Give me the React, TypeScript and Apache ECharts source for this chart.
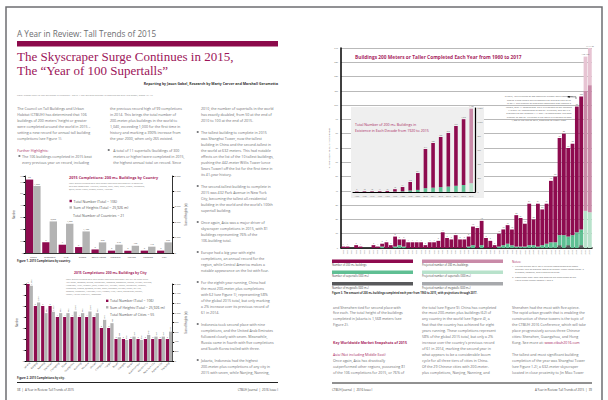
import React, { useEffect, useRef } from "react";
import * as echarts from "echarts";

// ---------------- DATA ----------------
const countryNames = ["China", "Indonesia", "UAE", "Russia", "South Korea", "Malaysia", "Mexico", "Panama", "USA"];
const countryCounts = [62, 9, 7, 5, 3, 2, 2, 2, 2];
const countryHeights = [4350, 2050, 1900, 1400, 690, 540, 470, 410, 690];

const cityNames = ["Jakarta", "Nanjing", "Nanning", "Shenzhen", "Chongqing", "Dubai", "Guangzhou", "Kunming", "Moscow", "Wuhan", "Changsha", "Tianjin", "Busan", "Chengdu", "Dalian", "Kuala Lumpur", "Mexico City", "New York City", "Panama City", "Shenyang"];
const cityCounts = [7, 5, 5, 5, 4, 4, 4, 4, 4, 4, 3, 3, 2, 2, 2, 2, 2, 2, 2, 2];
const cityHeights = [1565, 1216, 995, 1022, 995, 995, 1028, 995, 1028, 995, 855, 786, 494, 438, 507, 438, 542, 507, 507, 611];

const mainYears = [
  "1960", "1961", "1962", "1963", "1964", "1965", "1966", "1967", "1968", "1969",
  "1970", "1971", "1972", "1973", "1974", "1975", "1976", "1977", "1978", "1979",
  "1980", "1981", "1982", "1983", "1984", "1985", "1986", "1987", "1988", "1989",
  "1990", "1991", "1992", "1993", "1994", "1995", "1996", "1997", "1998", "1999",
  "2000", "2001", "2002", "2003", "2004", "2005", "2006", "2007", "2008", "2009",
  "2010", "2011", "2012", "2013", "2014", "2015", "2016", "2017",
];
const completed: (number | string)[] = [
  1, 1, 0, 2, 1, 0, 0, 2, 1, 3,
  4, 2, 8, 6, 6, 4, 4, 4, 4, 2,
  4, 4, 5, 11, 7, 6, 9, 6, 6, 8,
  15, 14, 19, 7, 5, 2, 10, 13, 16, 13,
  23, 21, 17, 31, 20, 31, 27, 31, 47, 50,
  77, 80, 70, 73, 99, 106, "-", "-",
];
const supertalls: (number | string)[] = [
  0, 0, 0, 0, 0, 0, 0, 0, 0, 1,
  0, 0, 1, 2, 1, 0, 0, 0, 0, 0,
  0, 0, 0, 0, 0, 0, 0, 0, 0, 1,
  2, 0, 2, 0, 0, 0, 1, 2, 3, 2,
  1, 1, 1, 2, 2, 1, 2, 3, 4, 4,
  9, 9, 8, 9, 11, 13, "-", "-",
];
const megatalls: (number | string)[] = [
  0, 0, 0, 0, 0, 0, 0, 0, 0, 0,
  0, 0, 0, 0, 0, 0, 0, 0, 0, 0,
  0, 0, 0, 0, 0, 0, 0, 0, 0, 0,
  0, 0, 0, 0, 0, 0, 0, 0, 0, 0,
  0, 0, 0, 0, 0, 0, 0, 0, 0, 0,
  2, 0, 2, 0, 0, 2, "-", "-",
];
const projYears = ["2016", "2017"];
const projLow = [110, 114];
const projHigh = [134, 140];
const projSuper = [26, 25];

const insetYears = ["1920", "1930", "1940", "1950", "1960", "1970", "1980", "1990", "2000", "2010", "2011", "2012", "2013", "2014", "2015", "2016"];
const insetTotal: (number | string)[] = [5, 10, 10, 11, 15, 40, 71, 143, 271, 614, 700, 786, 843, 943, 1040, "-"];
const insetSuper: (number | string)[] = [0, 2, 2, 2, 2, 6, 10, 22, 30, 55, 62, 70, 78, 89, 100, "-"];
const insetMega: (number | string)[] = [0, 0, 0, 0, 0, 0, 0, 0, 0, 1, 1, 2, 2, 2, 3, "-"];
const insetProjTotal = 1190;
const insetProjSuper = 126;

// ---------------- STYLE ----------------
const MAG = "#8e0b4f";
const TMAG = "#a8285f";
const GRAY = "#b3b3b3";
const GREEN = "#5fbf93";
const LGREEN = "#b8e2cb";
const PINK = "#c98aa8";
const LPINK = "#e7c4d3";
const DGRAY = "#58595b";
const LGRAY = "#a7a9ac";
const BODY = "#6d6e71";
const SANS = "'Open Sans', 'Noto Sans', sans-serif";
const SERIF = "'Liberation Serif', 'DejaVu Serif', serif";

function txt(text: string, x: number, y: number, size: number, o: any = {}) {
  return {
    type: "text",
    x,
    y,
    rotation: o.rotation || 0,
    silent: true,
    z: 10,
    style: {
      text,
      fontSize: size,
      fontFamily: o.family || SANS,
      fontWeight: o.weight || "normal",
      fill: o.color || BODY,
      textAlign: o.align || "left",
      align: o.align || "left",
      textVerticalAlign: "middle",
      verticalAlign: "middle",
      rich: { l: { fill: TMAG, color: TMAG, fontSize: size, fontFamily: o.family || SANS } },
    },
  };
}

function column(lines: string[], x: number, bx: number, tx: number, y0: number, lh: number, size: number) {
  const out: any[] = [];
  lines.forEach((ln, i) => {
    const y = y0 + i * lh;
    if (!ln) return;
    if (ln.startsWith("#!")) out.push(txt(ln.slice(2), x, y, size, { color: TMAG, weight: "bold" }));
    else if (ln.startsWith("#")) out.push(txt(ln.slice(1), x, y, size, { color: TMAG }));
    else if (ln.startsWith("* ")) {
      out.push({ type: "rect", z: 10, silent: true, shape: { x: bx, y: y - 0.9, width: 1.8, height: 1.8 }, style: { fill: BODY } });
      out.push(txt(ln.slice(2), tx, y, size));
    } else if (ln.startsWith("  ")) out.push(txt(ln.slice(2), tx, y, size));
    else out.push(txt(ln, x, y, size));
  });
  return out;
}

const col1 = [
  "The Council on Tall Buildings and Urban",
  "Habitat (CTBUH) has determined that 106",
  "buildings of 200 meters' height or greater",
  "were completed around the world in 2015 –",
  "setting a new record for annual tall building",
  "completions (see Figure 1).",
  "",
  "#Further Highlights:",
  "* The 106 buildings completed in 2015 beat",
  "  every previous year on record, including",
];
const col2 = [
  "the previous record high of 99 completions",
  "in 2014. This brings the total number of",
  "200-meter-plus buildings in the world to",
  "1,040, exceeding 1,000 for the first time in",
  "history and marking a 390% increase from",
  "the year 2000, when only 265 existed.",
  "",
  "* A total of 11 supertalls (buildings of 300",
  "  meters or higher) were completed in 2015,",
  "  the highest annual total on record. Since",
];
const col3 = [
  "2010, the number of supertalls in the world",
  "has exactly doubled, from 50 at the end of",
  "2010 to 100 at the end of 2015.",
  "",
  "* The tallest building to complete in 2015",
  "  was Shanghai Tower, now the tallest",
  "  building in China and the second-tallest in",
  "  the world at 632 meters. This had notable",
  "  effects on the list of the 10 tallest buildings,",
  "  pushing the 442-meter Willis Tower (once",
  "  Sears Tower) off the list for the first time in",
  "  its 41-year history.",
  "",
  "* The second-tallest building to complete in",
  "  2015 was 432 Park Avenue in New York",
  "  City, becoming the tallest all-residential",
  "  building in the world and the world's 100th",
  "  supertall building.",
  "",
  "* Once again, Asia was a major driver of",
  "  skyscraper completions in 2015, with 81",
  "  buildings representing 76% of the",
  "  106-building total.",
  "",
  "* Europe had a big year with eight",
  "  completions, an annual record for the",
  "  region, while Central America makes a",
  "  notable appearance on the list with four.",
  "",
  "* For the eighth year running, China had",
  "  the most 200-meter-plus completions",
  "  with 62 (see Figure 1), representing 58%",
  "  of the global 2015 total, but only marking",
  "  a 2% increase over its previous record of",
  "  61 in 2014.",
  "",
  "* Indonesia took second place with nine",
  "  completions, and the United Arab Emirates",
  "  followed closely with seven. Meanwhile,",
  "  Russia came in fourth with five completions",
  "  and South Korea trailed with three.",
  "",
  "* Jakarta, Indonesia had the highest",
  "  200-meter-plus completions of any city in",
  "  2015 with seven, while Nanjing, Nanning,",
];
const colA = [
  "and Shenzhen tied for second place with",
  "five each. The total height of the buildings",
  "completed in Jakarta is 1,568 meters (see",
  "Figure 2).",
  "",
  "",
  "#!Key Worldwide Market Snapshots of 2015",
  "",
  "#Asia (Not including Middle East)",
  "Once again, Asia has drastically",
  "outperformed other regions, possessing 81",
  "of the 106 completions for 2015, or 76% of",
];
const colB = [
  "the total (see Figure 9). China has completed",
  "the most 200-meter-plus buildings (62) of",
  "any country in the world (see Figure 4), a",
  "feat that the country has achieved for eight",
  "years running. These completions represent",
  "58% of the global 2015 total, but only a 2%",
  "increase over the country's previous record",
  "of 61 in 2014, marking the second year in",
  "what appears to be a considerable boom",
  "cycle for all three tiers of cities in China.",
  "Of the 29 Chinese cities with 200-meter-",
  "plus completions, Nanjing, Nanning, and",
];
const colC = [
  "Shenzhen had the most with five apiece.",
  "The rapid urban growth that is enabling the",
  "construction of these towers is the topic of",
  "the CTBUH 2016 Conference, which will take",
  "place progressively across three Chinese",
  "cities: Shenzhen, Guangzhou, and Hong",
  "Kong. See more at: {l|www.ctbuh2016.com}",
  "",
  "The tallest and most significant building",
  "completion of the year was Shanghai Tower",
  "(see Figure 1.2), a 632-meter skyscraper",
  "located in close proximity to Jin Mao Tower",
];
const annotation = [
  "In 2015, 106 buildings of 200 meters or greater were completed,",
  "setting a new record and surpassing the previous high of 99",
  "in 2014. The number of supertalls completed also reached a",
  "record, with 11 completions. 2016 is expected to see between",
  "110 and 134 completions of 200 m+ buildings, and 2017 is",
  "projected to see between 114 and 140 completions. The total",
  "number of 200 m+ buildings in the world is expected to pass",
  "1,200 by the end of 2016, according to CTBUH data.",
];

function buildOption() {
  const superOnly = supertalls.map((s, i) => (s === "-" ? "-" : (s as number) - (megatalls[i] as number)));
  const rest = completed.map((c, i) => (c === "-" ? "-" : (c as number) - (supertalls[i] as number)));
  const projIdx = (y: string) => projYears.indexOf(y);
  const pSuper = mainYears.map((y) => (projIdx(y) >= 0 ? projSuper[projIdx(y)] : "-"));
  const pLowRest = mainYears.map((y) => (projIdx(y) >= 0 ? projLow[projIdx(y)] - projSuper[projIdx(y)] : "-"));
  const pHighRest = mainYears.map((y) => (projIdx(y) >= 0 ? projHigh[projIdx(y)] - projLow[projIdx(y)] : "-"));

  const iSuperOnly = insetSuper.map((s, i) => (s === "-" ? "-" : (s as number) - (insetMega[i] as number)));
  const iRest = insetTotal.map((t, i) => (t === "-" ? "-" : (t as number) - (insetSuper[i] as number)));
  const last = insetYears.length - 1;
  const iPSuper = insetYears.map((_, i) => (i === last ? insetProjSuper : "-"));
  const iPRest = insetYears.map((_, i) => (i === last ? insetProjTotal - insetProjSuper : "-"));

  const tinyLbl = (size: number, color = "#555") => ({ fontSize: size, color, fontFamily: SANS });
  const commas = (v: number) => v.toLocaleString("en-US");

  const graphic: any[] = [
    { type: "rect", z: 0, silent: true, shape: { x: 6, y: 7, width: 596, height: 400 }, style: { fill: "none", stroke: "#6d6e71", lineWidth: 1.5 } },
    txt("A Year in Review: Tall Trends of 2015", 17, 33, 8.2, { color: "#6d6e71" }),
    { type: "rect", z: 10, silent: true, shape: { x: 17, y: 41, width: 261, height: 5.5 }, style: { fill: "#8c0a4b" } },
    txt("The Skyscraper Surge Continues in 2015,", 17, 56.5, 13.0, { family: SERIF, color: "#9c1459" }),
    txt("The “Year of 100 Supertalls”", 17, 70.5, 13.0, { family: SERIF, color: "#9c1459" }),
    txt("Reporting by Jason Gabel, Research by Marty Carver and Marshall Gerometta", 278, 83.5, 3.5, { align: "right", weight: "bold", color: "#333" }),
    txt("Note: Please refer to “Tall Buildings in Numbers – 2015: A Tall Building Review” in conjunction with this paper, pages 46–47.", 17, 95, 2.4, { color: "#888" }),
    ...column(col1, 17.3, 18.5, 22, 108, 6, 3.6),
    ...column(col2, 110, 107.8, 113.3, 108, 6, 3.6),
    ...column(col3, 201, 196.8, 201, 108, 6, 3.6),
    ...column(colA, 333, 331, 334, 307, 5.93, 3.6),
    ...column(colB, 422, 420, 423, 307, 5.93, 3.6),
    ...column(colC, 512, 510, 513, 307, 5.93, 3.6),

    // Figure 1 texts
    txt("2015 Completions: 200 m+ Buildings by Country", 69, 177, 3.8, { color: TMAG, weight: "bold" }),
    txt("Note: Overall building 2015 total height calculated including the 12 countries", 69, 183, 2.1, { color: "#777" }),
    txt("with one completion: Australia, Canada, Chile, India, Israel, Kuwait, Philippines,", 69, 186, 2.1, { color: "#777" }),
    txt("Qatar, Saudi Arabia, Taiwan, Turkey, Vietnam.", 69, 189, 2.1, { color: "#777" }),
    { type: "rect", z: 10, silent: true, shape: { x: 69.5, y: 199.8, width: 2.4, height: 2.4 }, style: { fill: MAG } },
    txt("Total Number (Total = 106)", 73.5, 201, 3.5, { color: "#555" }),
    { type: "rect", z: 10, silent: true, shape: { x: 69.5, y: 206.3, width: 2.4, height: 2.4 }, style: { fill: GRAY } },
    txt("Sum of Heights (Total = 25,926 m)", 73.5, 207.5, 3.5, { color: "#555" }),
    txt("Total Number of Countries = 21", 73, 215, 3.5, { color: "#555" }),
    txt("Figure 1. 2015 Completions by country.", 17, 261, 2.8, { weight: "bold", color: "#333" }),

    // Figure 2 texts
    txt("2015 Completions: 200 m+ Buildings by City", 74, 272.3, 3.4, { color: TMAG, weight: "bold" }),
    txt("Note: Overall building 2015 total height calculated including 1 per city for these cities:", 66, 279, 2.1, { color: "#777" }),
    txt("Abu Dhabi, Bangkok, Beijing, Changzhou, Colombo, Dongguan, Foshan, Fuzhou, Guiyang,", 66, 282, 2.1, { color: "#777" }),
    txt("Hangzhou, Hefei, Istanbul, Jinan, Kuwait City, Liuzhou, Manila, Melbourne, Mumbai,", 66, 285, 2.1, { color: "#777" }),
    txt("Nanchang, Ningbo, Qingdao, Riyadh, Seoul, Shanghai, Suzhou, Taipei, Tel Aviv,", 66, 288, 2.1, { color: "#777" }),
    txt("Toronto, Vancouver, Wenzhou, Wuxi, Xiamen, Xi'an, Yantai, Zhengzhou, Zhuhai,", 66, 291, 2.1, { color: "#777" }),
    txt("Makati, Ho Chi Minh City, Yokohama.", 66, 294, 2.1, { color: "#777" }),
    { type: "rect", z: 10, silent: true, shape: { x: 106, y: 299.6, width: 2.4, height: 2.4 }, style: { fill: MAG } },
    txt("Total Number (Total = 106)", 110, 300.8, 3.5, { color: "#555" }),
    { type: "rect", z: 10, silent: true, shape: { x: 106, y: 306.1, width: 2.4, height: 2.4 }, style: { fill: GRAY } },
    txt("Sum of Heights (Total = 25,926 m)", 110, 307.3, 3.5, { color: "#555" }),
    txt("Total Number of Cities = 55", 110, 314.3, 3.5, { color: "#555" }),
    txt("Figure 2. 2015 Completions by city.", 17, 377.7, 2.8, { weight: "bold", color: "#333" }),

    // Footers
    { type: "line", z: 10, silent: true, shape: { x1: 17, y1: 382.5, x2: 278, y2: 382.5 }, style: { stroke: "#222", lineWidth: 1 } },
    txt("38  |  A Year in Review: Tall Trends of 2015", 17, 389.5, 2.9, { color: "#444" }),
    txt("CTBUH Journal  |  2016 Issue I", 278, 389.5, 2.9, { color: "#444", align: "right" }),
    { type: "line", z: 10, silent: true, shape: { x1: 332, y1: 383, x2: 592, y2: 383 }, style: { stroke: "#222", lineWidth: 1 } },
    txt("CTBUH Journal  |  2016 Issue I", 332, 390, 2.9, { color: "#444" }),
    txt("A Year in Review: Tall Trends of 2015  |  39", 592, 390, 2.9, { color: "#444", align: "right" }),

    // Figure 3 texts
    txt("Buildings 200 Meters or Taller Completed Each Year from 1960 to 2017", 355, 57, 4.8, { color: TMAG, weight: "bold" }),
    { type: "rect", z: 1, silent: true, shape: { x: 351, y: 107, width: 133, height: 91 }, style: { fill: "#efefef" } },
    txt("Total Number of 200 m+ Buildings in", 355, 124, 3.6, { color: TMAG }),
    txt("Existence in Each Decade from 1920 to 2015", 355, 130, 3.6, { color: TMAG }),
    ...annotation.map((l, i) => txt(l, 539, 97 + i * 3.4, 2.3, { color: "#666", align: "center" })),
    { type: "polyline", z: 10, silent: true, shape: { points: [[567, 96.8], [576, 96.8], [576, 99]] }, style: { stroke: "#222", fill: "none", lineWidth: 0.5 } },
    { type: "circle", z: 10, silent: true, shape: { cx: 569, cy: 96.8, r: 0.8 }, style: { fill: "#000" } },

    // Figure 3 legend
    ...([
      [332, 259.5, MAG, "Number of 200 m+ buildings"],
      [422, 259.5, PINK, "Projected number of 200 m+ buildings"],
      [332, 270.5, GREEN, "Number of supertalls (300 m+)"],
      [422, 270.5, LGREEN, "Projected number of supertalls (300 m+)"],
      [332, 282, DGRAY, "Number of megatalls (600 m+)"],
      [422, 282, LGRAY, "Projected number of megatalls (600 m+)"],
    ] as [number, number, string, string][]).flatMap(([x, y, c, l]) => [
      { type: "rect", z: 10, silent: true, shape: { x, y, width: 81, height: 3.6 }, style: { fill: c } },
      txt(l, x, y + 5.3, 2.6, { color: "#444" }),
    ]),
    txt("Figure 3. The amount of 200 m+ buildings completed each year from 1960 to 2015, with projections through 2017.", 332, 292.5, 2.6, { weight: "bold", color: "#333" }),
    txt("Notes:", 512, 262, 3, { color: TMAG }),
    txt("1.  We can predict 2016–2017 building completions with some", 512, 266.5, 2.3, { color: "#666" }),
    txt("accuracy due to projects' status as already under construction. It", 515, 269.5, 2.3, { color: "#666" }),
    txt("is always, however, with a margin of error.", 515, 272.5, 2.3, { color: "#666" }),
    txt("2.  Totals after 2001 take into account the destruction of the", 512, 277.5, 2.3, { color: "#666" }),
    txt("World Trade Center Towers 1 and 2.", 515, 280.5, 2.3, { color: "#666" }),
  ];

  const noSplit = { show: false };
  const blackLine = (w: number) => ({ show: true, lineStyle: { color: "#000", width: w } });

  return {
    animation: false,
    backgroundColor: "#fff",
    grid: [
      { left: 25, top: 176, width: 147.7, height: 77, outerBoundsMode: "none" },
      { left: 26, top: 284, width: 146.7, height: 77, outerBoundsMode: "none" },
      { left: 341, top: 48, width: 251, height: 200, outerBoundsMode: "none" },
      { left: 353, top: 108, width: 122, height: 84, outerBoundsMode: "none", z: 3 },
    ],
    xAxis: [
      { gridIndex: 0, type: "category", data: countryNames, axisLine: blackLine(0.8), axisTick: { show: false }, axisLabel: { fontSize: 2.5, color: "#444", margin: 2.5, interval: 0, fontFamily: SANS } },
      { gridIndex: 1, type: "category", data: cityNames, axisLine: blackLine(0.8), axisTick: { show: false }, axisLabel: { fontSize: 2.4, color: "#444", margin: 1.5, interval: 0, rotate: 45, fontFamily: SANS } },
      { gridIndex: 2, type: "category", data: mainYears, axisLine: blackLine(1.5), axisTick: { show: false }, axisLabel: { fontSize: 2, color: "#777", margin: 2, interval: 0, rotate: 90, fontFamily: SANS } },
      { gridIndex: 3, type: "category", data: insetYears, z: 4, axisLine: blackLine(1.2), axisTick: { show: false }, axisLabel: { fontSize: 2, color: "#777", margin: 3, interval: 0, fontFamily: SANS } },
    ],
    yAxis: [
      { gridIndex: 0, type: "value", min: 0, max: 65, interval: 10, splitLine: noSplit, axisLine: blackLine(0.8), axisTick: { show: true, length: 1.5 }, axisLabel: { fontSize: 2.4, color: "#555", margin: 2 }, name: "Number", nameLocation: "middle", nameGap: 6, nameTextStyle: { fontSize: 2.6, color: "#555" } },
      { gridIndex: 0, type: "value", position: "right", min: 0, max: 5000, interval: 1000, splitLine: noSplit, axisLine: blackLine(0.8), axisTick: { show: true, length: 1.5 }, axisLabel: { fontSize: 2.4, color: "#555", margin: 2, formatter: commas }, name: "Sum of Heights (m)", nameLocation: "middle", nameGap: 8, nameTextStyle: { fontSize: 2.6, color: "#555" } },
      { gridIndex: 1, type: "value", min: 0, max: 7, interval: 1, splitLine: noSplit, axisLine: blackLine(0.8), axisTick: { show: true, length: 1.5 }, axisLabel: { fontSize: 2.4, color: "#555", margin: 2 }, name: "Number", nameLocation: "middle", nameGap: 6, nameTextStyle: { fontSize: 2.6, color: "#555" } },
      { gridIndex: 1, type: "value", position: "right", min: 0, max: 1600, interval: 200, splitLine: noSplit, axisLine: blackLine(0.8), axisTick: { show: true, length: 1.5 }, axisLabel: { fontSize: 2.4, color: "#555", margin: 2, formatter: commas }, name: "Sum of Heights (m)", nameLocation: "middle", nameGap: 8, nameTextStyle: { fontSize: 2.6, color: "#555" } },
      { gridIndex: 2, type: "value", min: 0, max: 140, interval: 10, splitLine: { show: true, lineStyle: { color: "#b9b9b9", width: 1.2 } }, axisLine: blackLine(1.5), axisTick: { show: false }, axisLabel: { fontSize: 2.2, color: "#666", margin: 3 }, name: "Number of 200 m+ Buildings Completed", nameLocation: "middle", nameGap: 6, nameTextStyle: { fontSize: 2.3, color: "#666" } },
      { gridIndex: 3, type: "value", position: "right", z: 4, min: 0, max: 1200, interval: 200, splitLine: noSplit, axisLine: blackLine(1.2), axisTick: { show: false }, axisLabel: { fontSize: 2, color: "#666", margin: 2.5, formatter: commas } },
    ],
    series: [
      { type: "bar", xAxisIndex: 0, yAxisIndex: 0, data: countryCounts, itemStyle: { color: MAG }, barGap: "0%", barCategoryGap: "10%", label: { show: true, position: "top", distance: 1, ...tinyLbl(2.2) } },
      { type: "bar", xAxisIndex: 0, yAxisIndex: 1, data: countryHeights, itemStyle: { color: GRAY }, barGap: "0%", barCategoryGap: "10%", label: { show: true, position: "top", distance: 1, ...tinyLbl(2.2), formatter: (p: any) => commas(p.value) } },
      { type: "bar", xAxisIndex: 1, yAxisIndex: 2, data: cityCounts, itemStyle: { color: MAG }, barGap: "0%", barCategoryGap: "12%", label: { show: true, position: "top", distance: 1, ...tinyLbl(2) } },
      { type: "bar", xAxisIndex: 1, yAxisIndex: 3, data: cityHeights, itemStyle: { color: GRAY }, barGap: "0%", barCategoryGap: "12%", label: { show: true, position: "top", distance: 1, rotate: 90, align: "left", verticalAlign: "middle", ...tinyLbl(2), formatter: (p: any) => commas(p.value) } },

      { type: "bar", xAxisIndex: 2, yAxisIndex: 4, stack: "main", data: megatalls, itemStyle: { color: DGRAY }, barCategoryGap: "12%" },
      { type: "bar", xAxisIndex: 2, yAxisIndex: 4, stack: "main", data: superOnly, itemStyle: { color: GREEN }, barCategoryGap: "12%", label: { show: true, position: "insideTop", distance: 0.5, ...tinyLbl(1.8, "#2b5"), formatter: (p: any) => (supertalls[p.dataIndex] ? String(supertalls[p.dataIndex]) : "") } },
      { type: "bar", xAxisIndex: 2, yAxisIndex: 4, stack: "main", data: rest, itemStyle: { color: MAG }, barCategoryGap: "12%", label: { show: true, position: "top", distance: 1, ...tinyLbl(2), formatter: (p: any) => (completed[p.dataIndex] ? String(completed[p.dataIndex]) : "") } },
      { type: "bar", xAxisIndex: 2, yAxisIndex: 4, stack: "main", data: pSuper, itemStyle: { color: LGREEN }, barCategoryGap: "12%" },
      { type: "bar", xAxisIndex: 2, yAxisIndex: 4, stack: "main", data: pLowRest, itemStyle: { color: PINK }, barCategoryGap: "12%" },
      { type: "bar", xAxisIndex: 2, yAxisIndex: 4, stack: "main", data: pHighRest, itemStyle: { color: LPINK }, barCategoryGap: "12%", label: { show: true, position: "top", distance: 1, ...tinyLbl(2), formatter: (p: any) => { const k = projIdx(mainYears[p.dataIndex]); return k >= 0 ? `${projLow[k]}–${projHigh[k]}` : ""; } } },

      { type: "bar", xAxisIndex: 3, yAxisIndex: 5, z: 5, stack: "inset", data: insetMega, itemStyle: { color: DGRAY }, barWidth: 3.6 },
      { type: "bar", xAxisIndex: 3, yAxisIndex: 5, z: 5, stack: "inset", data: iSuperOnly, itemStyle: { color: GREEN }, barWidth: 3.6 },
      { type: "bar", xAxisIndex: 3, yAxisIndex: 5, z: 5, stack: "inset", data: iRest, itemStyle: { color: MAG }, barWidth: 3.6, label: { show: true, position: "top", distance: 1, ...tinyLbl(1.8), formatter: (p: any) => (insetTotal[p.dataIndex] === "-" ? "" : commas(insetTotal[p.dataIndex] as number)) } },
      { type: "bar", xAxisIndex: 3, yAxisIndex: 5, z: 5, stack: "inset", data: iPSuper, itemStyle: { color: LGREEN }, barWidth: 3.6 },
      { type: "bar", xAxisIndex: 3, yAxisIndex: 5, z: 5, stack: "inset", data: iPRest, itemStyle: { color: PINK }, barWidth: 3.6, label: { show: true, position: "top", distance: 1, ...tinyLbl(1.8), formatter: (p: any) => (p.value === "-" ? "" : commas(insetProjTotal)) } },
    ],
    graphic: { elements: graphic },
  };
}

export default function App() {
  const ref = useRef<HTMLDivElement>(null);
  useEffect(() => {
    if (!ref.current) return;
    const chart = echarts.init(ref.current, null, { renderer: "svg" });
    chart.setOption(buildOption() as any);
    return () => chart.dispose();
  }, []);
  return <div ref={ref} style={{ position: "fixed", left: 0, top: 0, width: 608, height: 400, background: "#fff" }} />;
}
